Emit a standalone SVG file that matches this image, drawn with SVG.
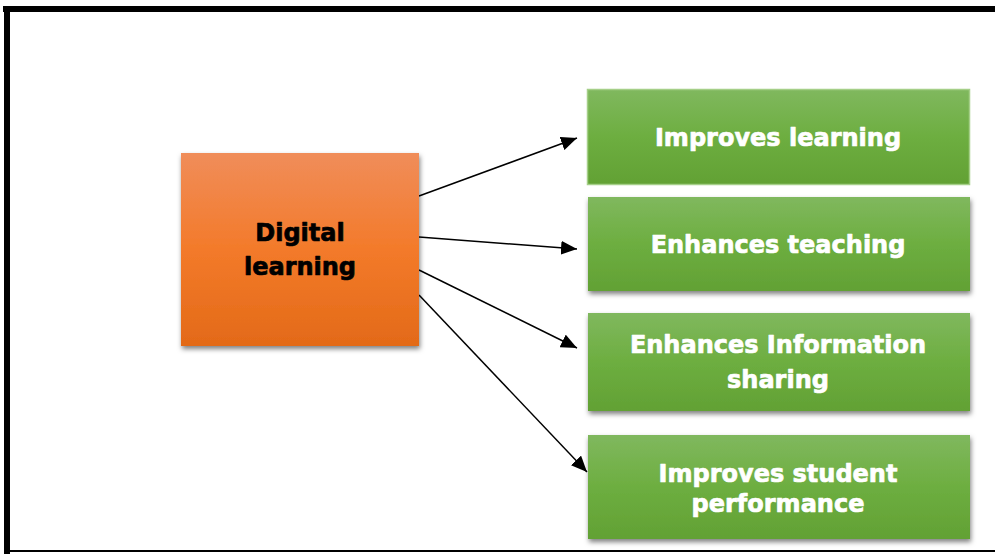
<svg xmlns="http://www.w3.org/2000/svg" width="995" height="554" viewBox="0 0 995 554">
<style>
.t{font-family:"DejaVu Sans","Verdana",sans-serif;font-weight:bold;font-size:24px;text-anchor:middle;stroke-width:0.7px;stroke-linejoin:round}
.w{fill:#ffffff;stroke:#ffffff}
.k{fill:#000000;stroke:#000000}
.c{stroke:#000;stroke-width:1.5;fill:none;marker-end:url(#ah)}
</style>
<defs>
<linearGradient id="og" x1="0" y1="0" x2="0" y2="1">
<stop offset="0" stop-color="#F08D5A"/>
<stop offset="0.5" stop-color="#F37A2A"/>
<stop offset="1" stop-color="#E36A18"/>
</linearGradient>
<linearGradient id="gg" x1="0" y1="0" x2="0" y2="1">
<stop offset="0" stop-color="#80B85E"/>
<stop offset="0.5" stop-color="#6DAE40"/>
<stop offset="1" stop-color="#62A134"/>
</linearGradient>
<filter id="sh" x="-10%" y="-10%" width="120%" height="130%">
<feDropShadow dx="1" dy="3" stdDeviation="2.5" flood-color="#000" flood-opacity="0.5"/>
</filter>
<marker id="ah" viewBox="0 0 16 14" refX="16" refY="7" markerWidth="16" markerHeight="14" markerUnits="userSpaceOnUse" orient="auto">
<path d="M0,0 L16,7 L0,14 Z" fill="#000"/>
</marker>
</defs>
<rect x="0" y="0" width="995" height="554" fill="#fff"/>
<g id="frame">
<rect x="3" y="6" width="995" height="6" fill="#000"/>
<rect x="4" y="6" width="6" height="548" fill="#000"/>
<rect x="4" y="550" width="995" height="2" fill="#000"/>
</g>
<g id="connectors">
<line class="c" x1="419" y1="196" x2="577" y2="138"/>
<line class="c" x1="419" y1="237" x2="577" y2="249"/>
<line class="c" x1="419" y1="270" x2="577" y2="348"/>
<line class="c" x1="419" y1="295" x2="587" y2="472"/>
</g>
<g id="digital-learning">
<rect x="181" y="153" width="238" height="193" fill="url(#og)" filter="url(#sh)"/>
<text class="t k" x="300" y="241">Digital</text>
<text class="t k" x="300" y="275">learning</text>
</g>
<g id="improves-learning">
<rect x="587.5" y="89.5" width="382" height="95" fill="url(#gg)" stroke="#A5CF88" stroke-width="1.5"/>
<text class="t w" x="778" y="146">Improves learning</text>
</g>
<g id="enhances-teaching">
<rect x="588" y="197" width="382" height="94" fill="url(#gg)" filter="url(#sh)"/>
<text class="t w" x="778" y="253">Enhances teaching</text>
</g>
<g id="enhances-information-sharing">
<rect x="588" y="313" width="382" height="98" fill="url(#gg)" filter="url(#sh)"/>
<text class="t w" x="778" y="353">Enhances Information</text>
<text class="t w" x="778" y="388">sharing</text>
</g>
<g id="improves-student-performance">
<rect x="588" y="435" width="382" height="104" fill="url(#gg)" filter="url(#sh)"/>
<text class="t w" x="778" y="482">Improves student</text>
<text class="t w" x="778" y="512">performance</text>
</g>
</svg>
